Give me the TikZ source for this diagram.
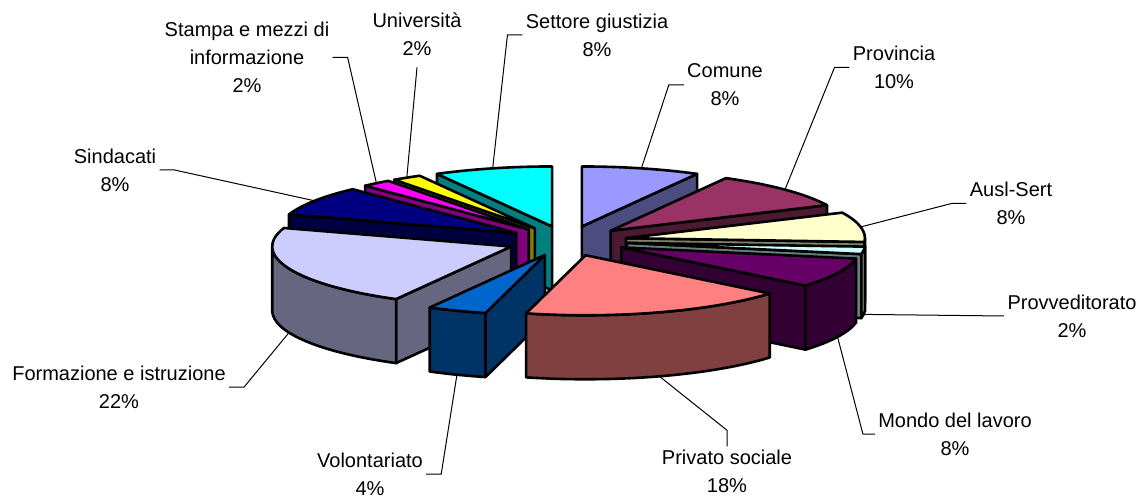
\documentclass[tikz,border=0pt]{standalone}
\usepackage{fontspec}
\setmainfont{Liberation Sans}
\usetikzlibrary{calc}

\definecolor{colComune}{HTML}{9999FF}
\definecolor{colProv}{HTML}{993366}
\definecolor{colAusl}{HTML}{FFFFCC}
\definecolor{colProvv}{HTML}{CCFFFF}
\definecolor{colMondo}{HTML}{660066}
\definecolor{colPriv}{HTML}{FF8080}
\definecolor{colVol}{HTML}{0066CC}
\definecolor{colForm}{HTML}{CCCCFF}
\definecolor{colSind}{HTML}{000080}
\definecolor{colStampa}{HTML}{FF00FF}
\definecolor{colUniv}{HTML}{FFFF00}
\definecolor{colGiust}{HTML}{00FFFF}

\tikzset{
  slice/.style={draw=black, line width=1.3pt, line join=round},
  rim/.style={x radius=239, y radius=60},
  leader/.style={draw=black, line width=0.5pt},
  lbl/.style={align=center, inner sep=1.5pt, font=\fontsize{10}{14}\selectfont}
}

\begin{document}
\begin{tikzpicture}[x=0.5pt, y=0.5pt]
    \useasboundingbox (0,0) rectangle (1143,-501);
    \coordinate (o) at (567,-241);

    % every slice pulled out by the same amount
    \coordinate (comune) at ($(o)+(75.6:60 and 15)$);
    \coordinate (prov) at ($(o)+(43.2:60 and 15)$);
    \coordinate (ausl) at ($(o)+(10.8:60 and 15)$);
    \coordinate (provv) at ($(o)+(-7.2:60 and 15)$);
    \coordinate (mondo) at ($(o)+(-25.2:60 and 15)$);
    \coordinate (priv) at ($(o)+(-72:60 and 15)$);
    \coordinate (vol) at ($(o)+(-111.6:60 and 15)$);
    \coordinate (form) at ($(o)+(201.6:60 and 15)$);
    \coordinate (sind) at ($(o)+(147.6:60 and 15)$);
    \coordinate (stampa) at ($(o)+(129.6:60 and 15)$);
    \coordinate (univ) at ($(o)+(122.4:60 and 15)$);
    \coordinate (giust) at ($(o)+(104.4:60 and 15)$);

    % back slices first
    \draw[slice, fill=colComune!50!black] (comune) -- ($(comune)+(61.2:239 and 60)$) -- ++(0,-64) -- ($(comune)+(0,-64)$) -- cycle;
    \draw[slice, fill=colComune] (comune) -- ($(comune)+(61.2:239 and 60)$) arc[rim, start angle=61.2, end angle=90] -- cycle;

    \draw[slice, fill=colGiust!50!black] (giust) -- ($(giust)+(118.8:239 and 60)$) -- ++(0,-64) -- ($(giust)+(0,-64)$) -- cycle;
    \draw[slice, fill=colGiust] (giust) -- ($(giust)+(90:239 and 60)$) arc[rim, start angle=90, end angle=118.8] -- cycle;

    \draw[slice, fill=colUniv!50!black] (univ) -- ($(univ)+(126:239 and 60)$) -- ++(0,-64) -- ($(univ)+(0,-64)$) -- cycle;
    \draw[slice, fill=colUniv] (univ) -- ($(univ)+(118.8:239 and 60)$) arc[rim, start angle=118.8, end angle=126] -- cycle;

    \draw[slice, fill=colStampa!50!black] (stampa) -- ($(stampa)+(133.2:239 and 60)$) -- ++(0,-64) -- ($(stampa)+(0,-64)$) -- cycle;
    \draw[slice, fill=colStampa] (stampa) -- ($(stampa)+(126:239 and 60)$) arc[rim, start angle=126, end angle=133.2] -- cycle;

    \draw[slice, fill=colProv!50!black] (prov) -- ($(prov)+(25.2:239 and 60)$) -- ++(0,-64) -- ($(prov)+(0,-64)$) -- cycle;
    \draw[slice, fill=colProv] (prov) -- ($(prov)+(25.2:239 and 60)$) arc[rim, start angle=25.2, end angle=61.2] -- cycle;

    \draw[slice, fill=colSind!50!black] (sind) -- ($(sind)+(162:239 and 60)$) -- ++(0,-64) -- ($(sind)+(0,-64)$) -- cycle;
    \draw[slice, fill=colSind] (sind) -- ($(sind)+(133.2:239 and 60)$) arc[rim, start angle=133.2, end angle=162] -- cycle;

    \draw[slice, fill=colAusl!50!black] (ausl) -- ($(ausl)+(-3.6:239 and 60)$) -- ++(0,-64) -- ($(ausl)+(0,-64)$) -- cycle;
    \draw[slice, fill=colAusl!50!black] ($(ausl)+(-3.6:239 and 60)$) arc[rim, start angle=-3.6, end angle=0] -- ++(0,-64) arc[rim, start angle=0, end angle=-3.6] -- cycle;
    \draw[slice, fill=colAusl] (ausl) -- ($(ausl)+(-3.6:239 and 60)$) arc[rim, start angle=-3.6, end angle=25.2] -- cycle;

    \draw[slice, fill=colProvv!50!black] (provv) -- ($(provv)+(-10.8:239 and 60)$) -- ++(0,-64) -- ($(provv)+(0,-64)$) -- cycle;
    \draw[slice, fill=colProvv!50!black] ($(provv)+(-10.8:239 and 60)$) arc[rim, start angle=-10.8, end angle=-3.6] -- ++(0,-64) arc[rim, start angle=-3.6, end angle=-10.8] -- cycle;
    \draw[slice, fill=colProvv] (provv) -- ($(provv)+(-10.8:239 and 60)$) arc[rim, start angle=-10.8, end angle=-3.6] -- cycle;

    \draw[slice, fill=colForm!50!black] (form) -- ($(form)+(241.2:239 and 60)$) -- ++(0,-64) -- ($(form)+(0,-64)$) -- cycle;
    \draw[slice, fill=colForm!50!black] ($(form)+(180:239 and 60)$) arc[rim, start angle=180, end angle=241.2] -- ++(0,-64) arc[rim, start angle=241.2, end angle=180] -- cycle;
    \draw[slice, fill=colForm] (form) -- ($(form)+(162:239 and 60)$) arc[rim, start angle=162, end angle=241.2] -- cycle;

    \draw[slice, fill=colMondo!50!black] (mondo) -- ($(mondo)+(-39.6:239 and 60)$) -- ++(0,-64) -- ($(mondo)+(0,-64)$) -- cycle;
    \draw[slice, fill=colMondo!50!black] ($(mondo)+(-39.6:239 and 60)$) arc[rim, start angle=-39.6, end angle=-10.8] -- ++(0,-64) arc[rim, start angle=-10.8, end angle=-39.6] -- cycle;
    \draw[slice, fill=colMondo] (mondo) -- ($(mondo)+(-39.6:239 and 60)$) arc[rim, start angle=-39.6, end angle=-10.8] -- cycle;

    \draw[slice, fill=colVol!50!black] (vol) -- ($(vol)+(-104.4:239 and 60)$) -- ++(0,-64) -- ($(vol)+(0,-64)$) -- cycle;
    \draw[slice, fill=colVol!50!black] ($(vol)+(-118.8:239 and 60)$) arc[rim, start angle=-118.8, end angle=-104.4] -- ++(0,-64) arc[rim, start angle=-104.4, end angle=-118.8] -- cycle;
    \draw[slice, fill=colVol] (vol) -- ($(vol)+(-118.8:239 and 60)$) arc[rim, start angle=-118.8, end angle=-104.4] -- cycle;

    \draw[slice, fill=colPriv!50!black] ($(priv)+(-104.4:239 and 60)$) arc[rim, start angle=-104.4, end angle=-39.6] -- ++(0,-64) arc[rim, start angle=-39.6, end angle=-104.4] -- cycle;
    \draw[slice, fill=colPriv] (priv) -- ($(priv)+(-104.4:239 and 60)$) arc[rim, start angle=-104.4, end angle=-39.6] -- cycle;

    % where the leaders meet the slices
    \coordinate (tipComune) at ($(comune)+(75.6:239 and 60)$);
    \coordinate (tipProv) at ($(prov)+(43.2:239 and 60)$);
    \coordinate (tipAusl) at ($(ausl)+(10.8:239 and 60)$);
    \coordinate (tipProvv) at ($(provv)+(-7.2:239 and 60)+(0,-64)$);
    \coordinate (tipMondo) at ($(mondo)+(-25.2:239 and 60)+(0,-64)$);
    \coordinate (tipPriv) at ($(priv)+(-72:239 and 60)+(0,-64)$);
    \coordinate (tipVol) at ($(vol)+(-111.6:239 and 60)+(0,-64)$);
    \coordinate (tipForm) at ($(form)+(201.6:239 and 60)+(0,-64)$);
    \coordinate (tipSind) at ($(sind)+(147.6:239 and 60)$);
    \coordinate (tipStampa) at ($(stampa)+(129.6:239 and 60)$);
    \coordinate (tipUniv) at ($(univ)+(122.4:239 and 60)$);
    \coordinate (tipGiust) at ($(giust)+(104.4:239 and 60)$);

    \node[lbl] (lblComune) at (725,-85) {Comune\\8\%};
    \node[lbl] (lblProv) at (894,-67.5) {Provincia\\10\%};
    \node[lbl] (lblAusl) at (1011,-203.5) {Ausl-Sert\\8\%};
    \node[lbl] (lblProvv) at (1072,-316) {Provveditorato\\2\%};
    \node[lbl] (lblMondo) at (955,-434) {Mondo del lavoro\\8\%};
    \node[lbl] (lblPriv) at (727,-471) {Privato sociale\\18\%};
    \node[lbl] (lblVol) at (370,-474) {Volontariato\\4\%};
    \node[lbl] (lblForm) at (119,-387) {Formazione e istruzione\\22\%};
    \node[lbl] (lblSind) at (115,-170) {Sindacati\\8\%};
    \node[lbl] (lblStampa) at (247,-57.5) {Stampa e mezzi di\\informazione\\2\%};
    \node[lbl] (lblUniv) at (417,-34.5) {Università\\2\%};
    \node[lbl] (lblGiust) at (597,-35) {Settore giustizia\\8\%};

    \draw[leader] (lblComune.west) -- ++(-15,0) -- (tipComune);
    \draw[leader] (lblProv.west) -- ++(-15,0) -- (tipProv);
    \draw[leader] (lblAusl.west) -- ++(-15,0) -- (tipAusl);
    \draw[leader] (lblProvv.west) -- (tipProvv);
    \draw[leader] (lblMondo.west) -- ++(-12,0) -- (tipMondo);
    \draw[leader] (lblPriv.north) -- ++(0,16) -- (tipPriv);
    \draw[leader] (lblVol.east) -- ++(15,0) -- (tipVol);
    \draw[leader] (lblForm.east) -- ++(15,0) -- (tipForm);
    \draw[leader] (lblSind.east) -- ++(15,0) -- (tipSind);
    \draw[leader] (lblStampa.east) -- ++(15,0) -- (tipStampa);
    \draw[leader] ([yshift=-4pt]lblUniv.south) -- (tipUniv);
    \draw[leader] (lblGiust.west) -- ++(-15,0) -- (tipGiust);
\end{tikzpicture}
\end{document}
